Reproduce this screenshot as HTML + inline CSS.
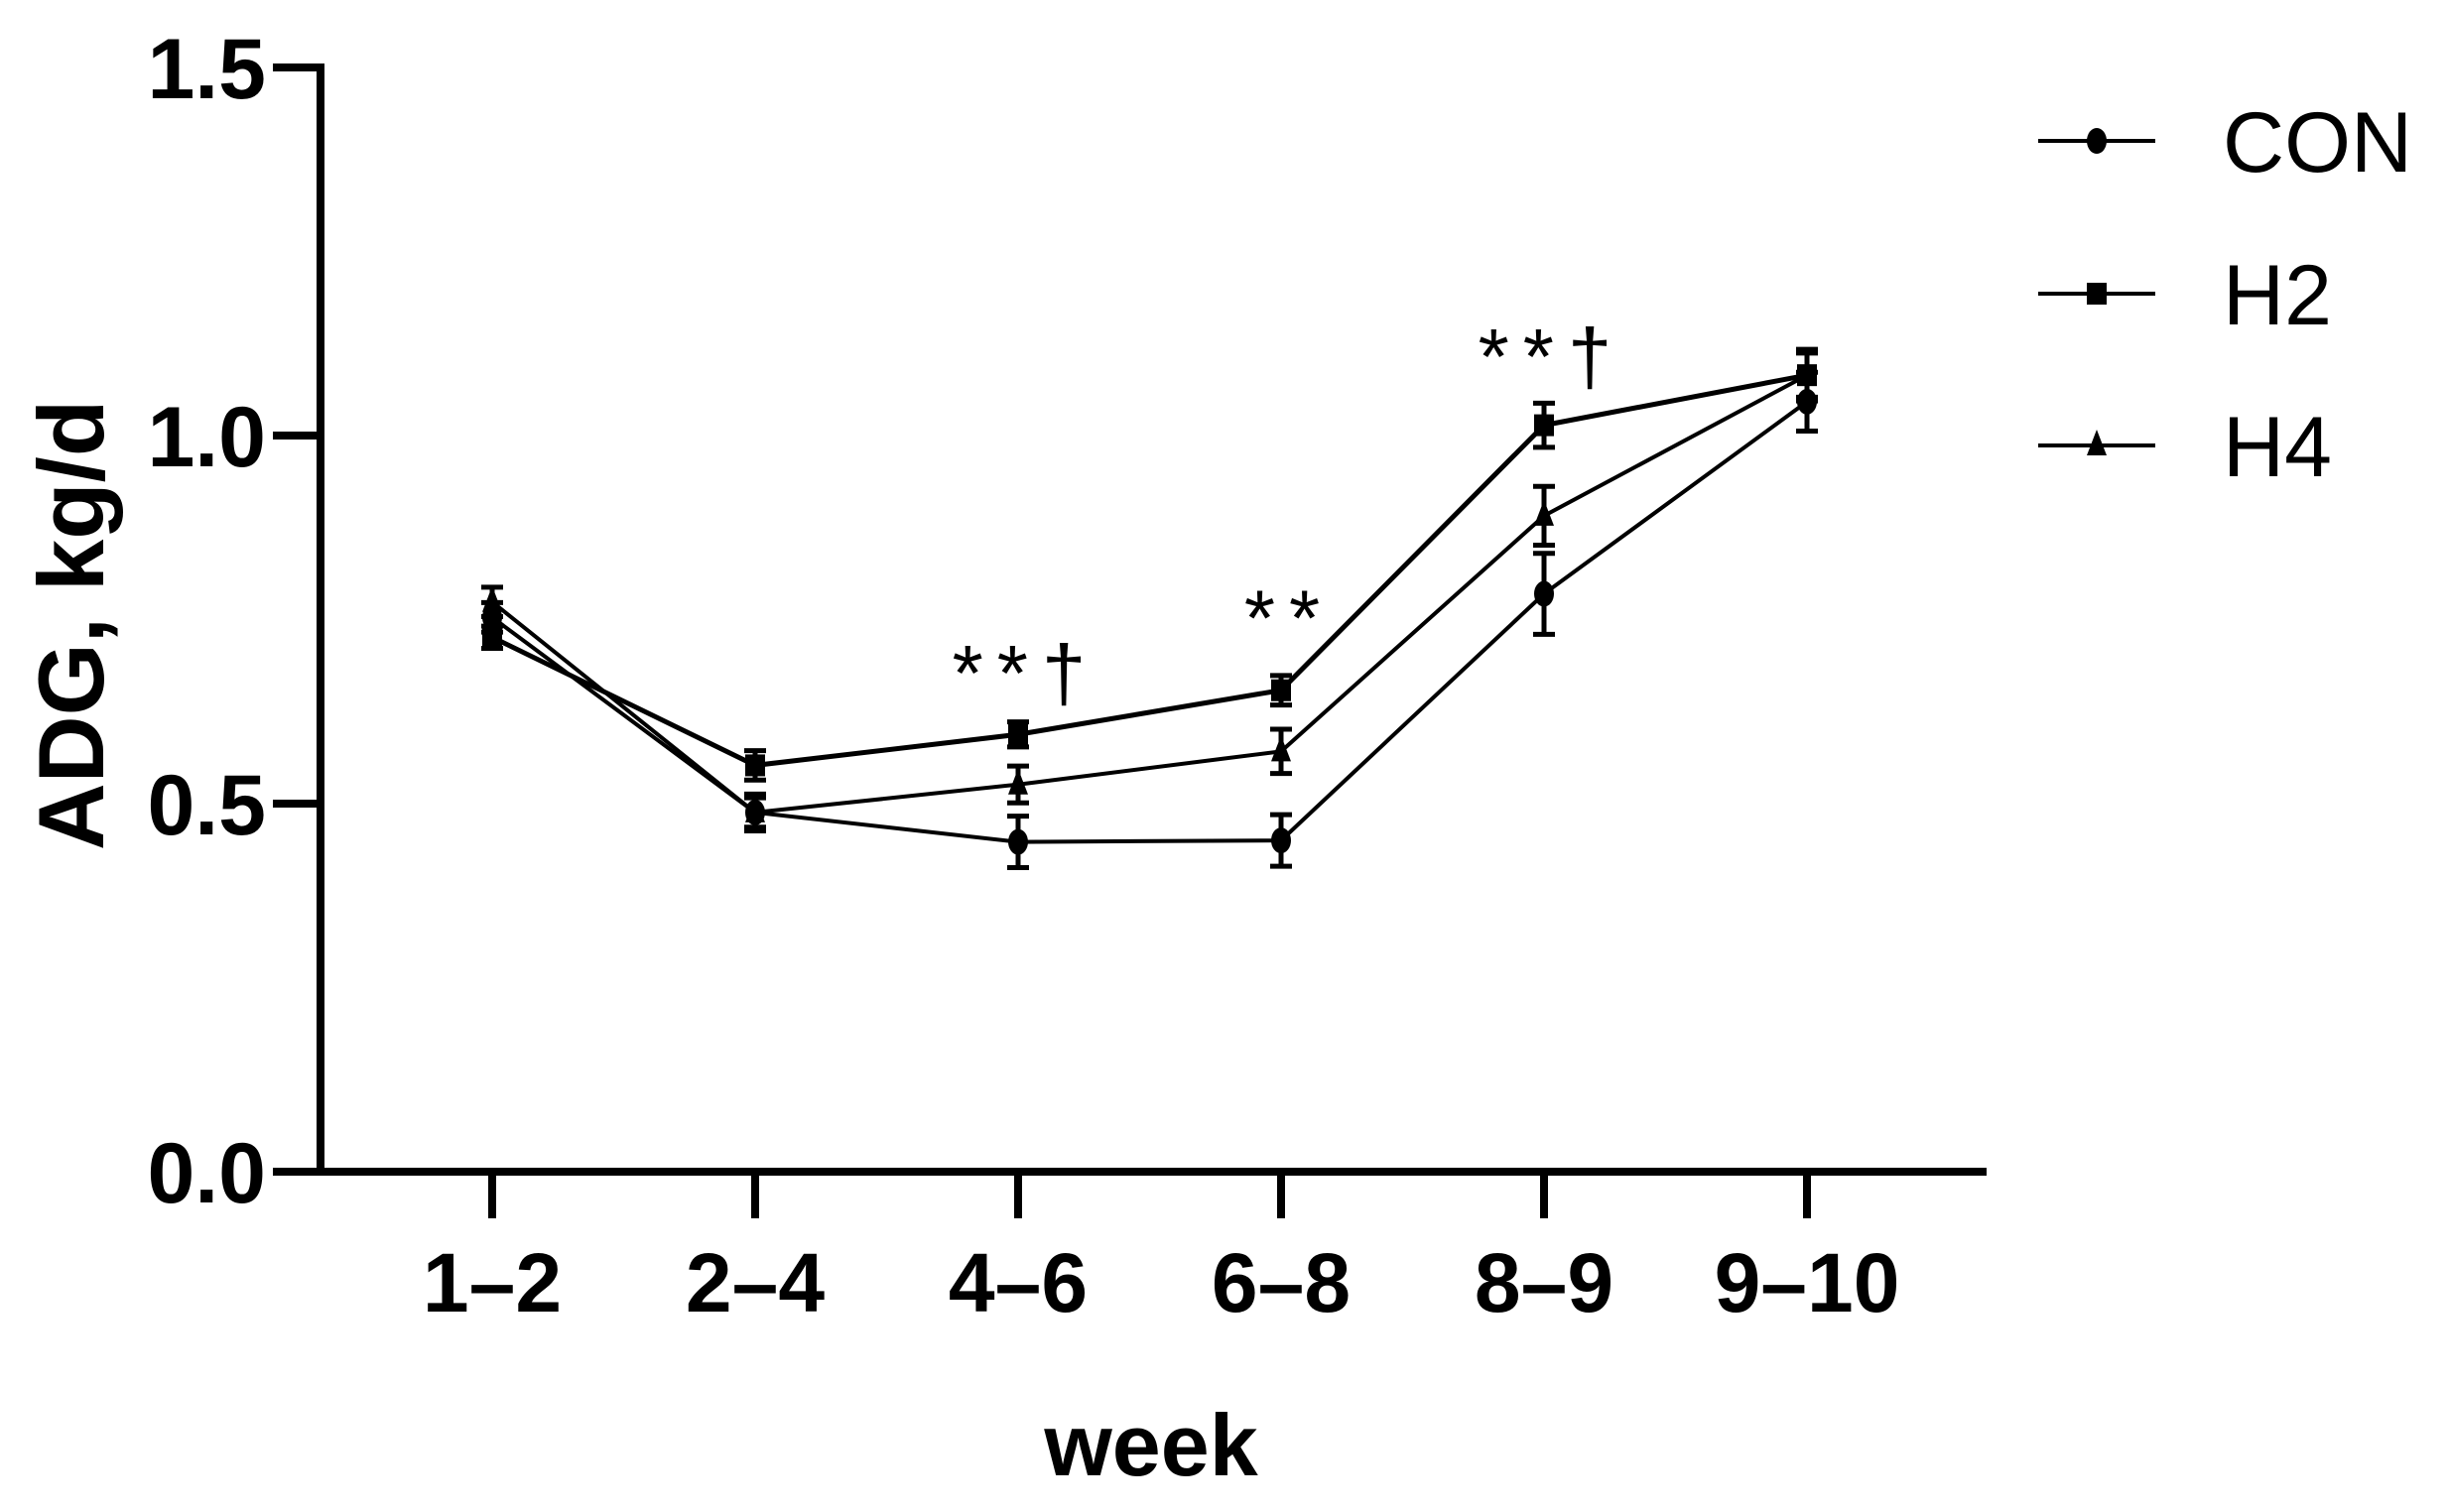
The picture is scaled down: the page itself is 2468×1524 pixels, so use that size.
<!DOCTYPE html>
<html><head><meta charset="utf-8"><style>
html,body{margin:0;padding:0;background:#fff;}
svg{display:block;font-family:"Liberation Sans",Arial,sans-serif;}
</style></head><body>
<svg id="chart" width="2468" height="1524" viewBox="0 0 2468 1524">
<g id="axes"></g><g id="series"></g><g id="legend"></g>
</svg>
<script>
const categories=["1–2","2–4","4–6","6–8","8–9","9–10"];
const conValues=[0.753,0.488,0.448,0.450,0.785,1.046];
const conErrors=[0.02,0.025,0.035,0.035,0.055,0.04];
const h2Values=[0.726,0.552,0.594,0.654,1.014,1.082];
const h2Errors=[0.015,0.02,0.017,0.02,0.03,0.035];
const h4Values=[0.774,0.488,0.526,0.571,0.891,1.082];
const h4Errors=[0.02,0.02,0.025,0.03,0.04,0.03];
const yTicks=[0,0.5,1.0,1.5];
const yTickLabels=["0.0","0.5","1.0","1.5"];
const annotations=[{cat:2,text:"**†",v:0.64},{cat:3,text:"**",v:0.715},{cat:4,text:"**†",v:1.07}];

const NS="http://www.w3.org/2000/svg";
const X0=323,X1=2002,Y0=1181,Y1=68;
function yScale(v){return Y0-(v/1.5)*(Y0-Y1);}
function xScale(i){return 496+i*265;}
function mk(tag,attrs,parent){const e=document.createElementNS(NS,tag);for(const k in attrs)e.setAttribute(k,attrs[k]);parent.appendChild(e);return e;}
const axes=document.getElementById('axes'),ser=document.getElementById('series'),leg=document.getElementById('legend');

let ya=mk('line',{x1:X0,y1:Y1-4,x2:X0,y2:Y0+4,stroke:'#000','stroke-width':8},axes);


let xa=mk('line',{x1:X0-4,y1:Y0,x2:X1,y2:Y0,stroke:'#000','stroke-width':8},axes);


yTicks.forEach((v,i)=>{
 const y=yScale(v);
 let t=mk('line',{x1:275,y1:y,x2:X0,y2:y,stroke:'#000','stroke-width':8},axes);
 
 
 let l=mk('text',{x:268,y:y+31,'text-anchor':'end','font-size':86,'font-weight':'bold'},axes);
 l.textContent=yTickLabels[i];
 
 
});
categories.forEach((c,i)=>{
 const x=xScale(i);
 let t=mk('line',{x1:x,y1:Y0,x2:x,y2:1228,stroke:'#000','stroke-width':8},axes);
 
 
 let l=mk('text',{x:x,y:1322,'text-anchor':'middle','font-size':84,'font-weight':'bold'},axes);
 l.textContent=c;
 
 
});
let yt=mk('text',{x:0,y:0,'text-anchor':'middle','font-size':94,'font-weight':'bold',transform:'translate(104,630) rotate(-90)'},axes);
yt.textContent='ADG, kg/d';


let xt=mk('text',{x:1160,y:1487,'text-anchor':'middle','font-size':88,'font-weight':'bold'},axes);
xt.textContent='week';



function marker(type,x,y,g){
 if(type==='circle') return mk('ellipse',{cx:x,cy:y,rx:10,ry:13,fill:'#000'},g);
 if(type==='square') return mk('rect',{x:x-10,y:y-11,width:20,height:22,fill:'#000'},g);
 return mk('polygon',{points:`${x},${y-16} ${x+10},${y+10} ${x-10},${y+10}`,fill:'#000'},g);
}
function drawSeries(name,vals,errs,type,w){
 const g=mk('g',{},ser);
 
 
 const pts=vals.map((v,i)=>xScale(i)+','+yScale(v)).join(' ');
 let pl=mk('polyline',{points:pts,fill:'none',stroke:'#000','stroke-width':w},g);
 
 
 vals.forEach((v,i)=>{
  const x=xScale(i),yt=yScale(v+errs[i]),yb=yScale(v-errs[i]);
  const e=mk('path',{d:`M${x},${yt}V${yb}M${x-11},${yt}H${x+11}M${x-11},${yb}H${x+11}`,stroke:'#000','stroke-width':5,fill:'none'},g);
  
  
  const m=marker(type,x,yScale(v),g);
  
  
 });
}
drawSeries('con',conValues,conErrors,'circle',4);
drawSeries('h2',h2Values,h2Errors,'square',5);
drawSeries('h4',h4Values,h4Errors,'triangle',4);
annotations.forEach(a=>{
 let t=mk('text',{x:xScale(a.cat)+8,y:yScale(a.v),'text-anchor':'middle','font-size':80,'letter-spacing':14},ser);
 t.textContent=a.text;
 
 
});
[['CON','circle',142],['H2','square',296],['H4','triangle',449]].forEach(([n,t,y])=>{
 const g=mk('g',{},leg);
 
 
 mk('line',{x1:2054,y1:y,x2:2172,y2:y,stroke:'#000','stroke-width':4},g);
 marker(t,2113,y,g);
 const tx=mk('text',{x:2240,y:y+31,'font-size':86},g);
 tx.textContent=n;
});
</script>
</body></html>
